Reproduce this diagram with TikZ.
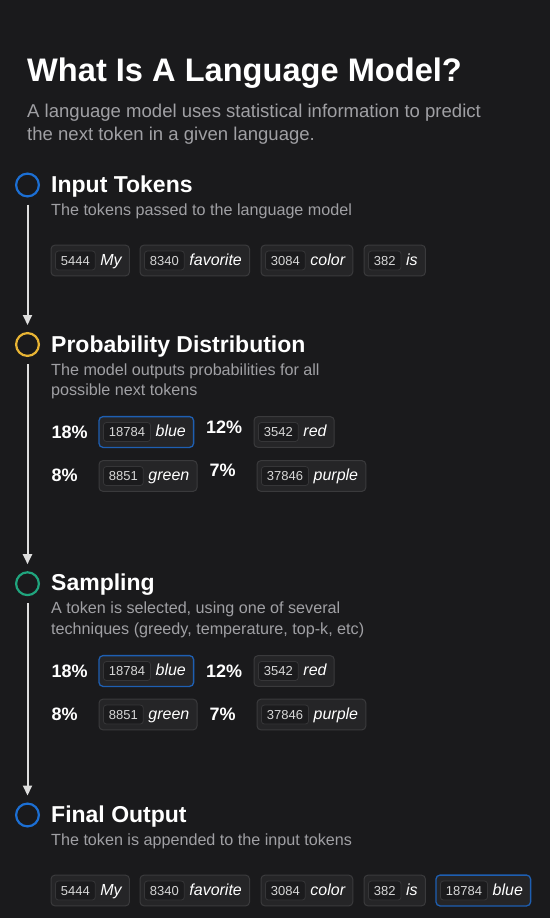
\documentclass[tikz,border=0pt]{standalone}
\usepackage{fontspec}
\setmainfont{Liberation Sans}
\usetikzlibrary{arrows.meta,fit,backgrounds}
\definecolor{bgc}{RGB}{26,26,28}
\definecolor{tokfill}{RGB}{37,37,39}
\definecolor{tokborder}{RGB}{58,58,60}
\definecolor{numfill}{RGB}{27,27,29}
\definecolor{numborder}{RGB}{54,54,56}
\definecolor{numtext}{RGB}{215,215,215}
\definecolor{descgray}{RGB}{160,160,164}
\definecolor{selblue}{RGB}{30,95,178}
\definecolor{cblue}{RGB}{28,111,212}
\definecolor{cyellow}{RGB}{232,180,52}
\definecolor{cgreen}{RGB}{32,165,126}
\definecolor{flowgray}{RGB}{222,222,222}
\newcommand\tok[6][]{%
  \node[numbox, anchor=west] (#2n) at (#3+4,#4) {#5};
  \node[wordtxt, anchor=base west] (#2w) at ([xshift=4.5pt]#2n.base east) {#6};
  \coordinate (#2r) at ([xshift=3.5pt]#2w.east);
  \begin{scope}[on background layer]
    \node[tokouter, fit=(#2n)(#2r), #1] (#2) {};
  \end{scope}}
\begin{document}
\begin{tikzpicture}[x=1pt,y=-1pt,
  title/.style={anchor=base west, inner sep=0, text=white, font=\bfseries\fontsize{32.6}{36}\selectfont},
  sub/.style={anchor=base west, inner sep=0, text=descgray, font=\fontsize{18.55}{22}\selectfont},
  head/.style={anchor=base west, inner sep=0, text=white, font=\bfseries\fontsize{23}{27}\selectfont},
  desc/.style={anchor=base west, inner sep=0, text=descgray, font=\fontsize{16.15}{19}\selectfont},
  pct/.style={anchor=base west, inner sep=0, text=white, font=\bfseries\fontsize{18}{21}\selectfont},
  ring/.style={circle, draw=#1, line width=2.2pt, minimum size=22.8pt, inner sep=0},
  flow/.style={draw=flowgray, line width=2pt, shorten <=7pt, shorten >=7pt, -{Triangle[width=9pt,length=10pt]}},
  tokouter/.style={draw=tokborder, fill=tokfill, rounded corners=4pt, line width=1pt, inner xsep=4pt, inner ysep=5.5pt},
  sel/.style={draw=selblue, line width=1.3pt},
  numbox/.style={draw=numborder, fill=numfill, rounded corners=3pt, line width=0.8pt, minimum height=19pt, inner xsep=5.5pt, inner ysep=0pt, text height=9.3pt, text depth=0pt, text=numtext, font=\fontsize{13}{15}\selectfont},
  wordtxt/.style={inner xsep=0pt, inner ysep=0pt, text height=11pt, text depth=3pt, text=white, font=\itshape\fontsize{16}{19}\selectfont}]
\useasboundingbox (0,0) rectangle (550,918);
\begin{scope}[on background layer]
  \fill[bgc] (0,0) rectangle (550,918);
\end{scope}

\node[title] (title) at (27,81.7) {What Is A Language Model?};
\node[sub] (sub1) at (27,117.6) {A language model uses statistical information to predict};
\node[sub] (sub2) at (27,140) {the next token in a given language.};

% step circles
\node[ring=cblue] (c1) at (27.5,185) {};
\node[ring=cyellow] (c2) at (27.5,344.5) {};
\node[ring=cgreen] (c3) at (27.5,583.7) {};
\node[ring=cblue] (c4) at (27.5,815) {};
\draw[flow] (c1) -- (c2);
\draw[flow] (c2) -- (c3);
\draw[flow] (c3) -- (c4);

% Input tokens
\node[head] (h1) at (51,192) {Input Tokens};
\node[desc] (d1) at (51,215) {The tokens passed to the language model};
\tok{i1}{51}{260.5}{5444}{My}
\tok{i2}{140}{260.5}{8340}{favorite}
\tok{i3}{261}{260.5}{3084}{color}
\tok{i4}{364}{260.5}{382}{is}

% Probability distribution
\node[head] (h2) at (51,352) {Probability Distribution};
\node[desc] (d2a) at (51,375) {The model outputs probabilities for all};
\node[desc] (d2b) at (51,395.5) {possible next tokens};
\node[pct] (p1) at (51.5,438.3) {18\%};
\tok[sel]{pa}{99}{432}{18784}{blue}
\node[pct] (p2) at (206,433.3) {12\%};
\tok{pb}{254}{432}{3542}{red}
\node[pct] (p3) at (51.5,481.7) {8\%};
\tok{pc}{99}{476}{8851}{green}
\node[pct] (p4) at (209.3,476.7) {7\%};
\tok{pd}{257}{476}{37846}{purple}

% Sampling
\node[head] (h3) at (51,590.5) {Sampling};
\node[desc] (d3a) at (51,613.5) {A token is selected, using one of several};
\node[desc] (d3b) at (51,634) {techniques (greedy, temperature, top-k, etc)};
\node[pct] (s1) at (51.5,677.3) {18\%};
\tok[sel]{sa}{99}{671}{18784}{blue}
\node[pct] (s2) at (206,677.3) {12\%};
\tok{sb}{254}{671}{3542}{red}
\node[pct] (s3) at (51.5,720) {8\%};
\tok{sc}{99}{714.5}{8851}{green}
\node[pct] (s4) at (209.3,720) {7\%};
\tok{sd}{257}{714.5}{37846}{purple}

% Final output
\node[head] (h4) at (51,822.5) {Final Output};
\node[desc] (d4) at (51,845.5) {The token is appended to the input tokens};
\tok{f1}{51}{890.5}{5444}{My}
\tok{f2}{140}{890.5}{8340}{favorite}
\tok{f3}{261}{890.5}{3084}{color}
\tok{f4}{364}{890.5}{382}{is}
\tok[sel]{f5}{436}{890.5}{18784}{blue}
\end{tikzpicture}
\end{document}
